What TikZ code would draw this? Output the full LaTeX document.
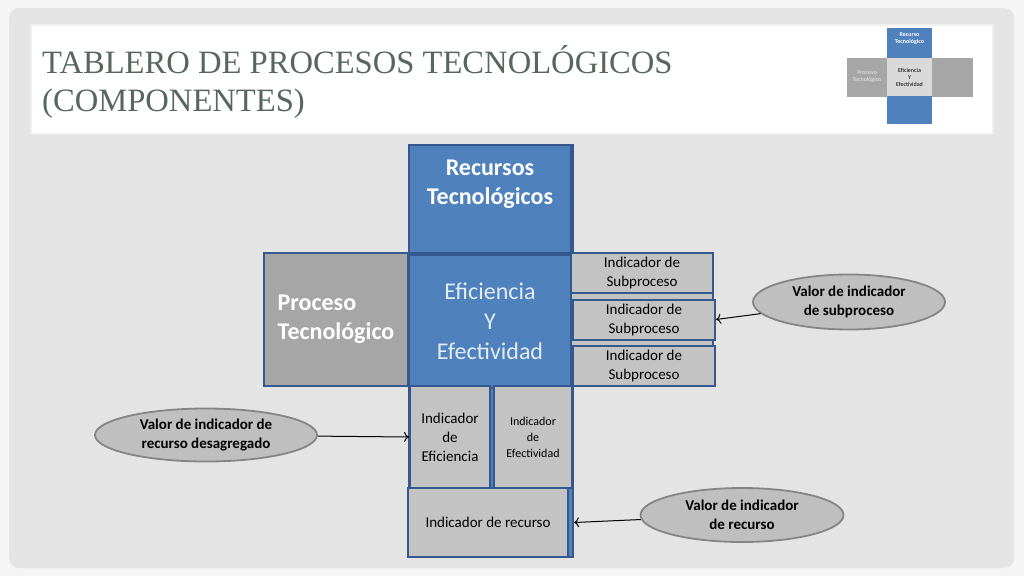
\documentclass[tikz,border=0pt]{standalone}
\usepackage{fontspec}
\setmainfont{Carlito}
\newfontfamily\titlefont{Liberation Serif}
\usepackage{xcolor}
\usetikzlibrary{shapes,arrows,positioning,calc,arrows.meta}
\definecolor{recBlue}{HTML}{4F81BD}
\definecolor{recLine}{HTML}{35598F}
\definecolor{boxGray}{HTML}{C3C3C3}
\definecolor{procGray}{HTML}{A6A6A6}
\definecolor{ovalGray}{HTML}{BFBFBF}
\definecolor{ovalLine}{HTML}{858585}
\definecolor{panelGray}{HTML}{E4E4E4}
\definecolor{titleGreen}{HTML}{56685E}
\definecolor{efiText}{HTML}{E4ECF6}

\begin{document}
\begin{tikzpicture}[x=1pt, y=-1pt,
    box/.style={rectangle, draw=recLine, line width=2pt, inner sep=0pt, align=center},
    bluebox/.style={box, fill=recBlue},
    graybox/.style={box, fill=boxGray, font=\fontsize{15}{19}\selectfont},
    oval/.style={ellipse, draw=ovalLine, line width=1.8pt, fill=ovalGray, inner sep=0pt, align=center, font=\fontsize{15}{19}\selectfont\bfseries},
    arr/.style={-{To[length=5pt,width=10pt]}, line width=1pt},
    title/.style={inner sep=0pt, text=titleGreen, font=\titlefont\fontsize{32.6}{38}\selectfont},
    mini/.style={rectangle, inner sep=0pt, align=center, font=\fontsize{6}{7}\selectfont}]
    \useasboundingbox (0,0) rectangle (1024,576);
    \fill[white!96!black] (0,0) rectangle (1024,576);
    \fill[panelGray, rounded corners=10pt] (9,8) rectangle (1014,568);
    \filldraw[fill=white, draw=gray!12, line width=2pt] (31,25) rectangle (993,134);

    % title
    \node[title, anchor=base west] (ttl1) at (42,73) {TABLERO DE PROCESOS TECNOLÓGICOS};
    \node[title, anchor=base west] (ttl2) at (42,111) {(COMPONENTES)};

    % small copy of the board
    \node[mini, fill=recBlue, minimum width=45pt, minimum height=96pt] (mcol) at (909.5,76) {};
    \node[mini, fill=procGray, draw=gray!70, minimum width=40pt, minimum height=38pt, text=white!85!gray] (mproc) at (867,77) {Proceso\\Tecnológico};
    \node[mini, fill=procGray, draw=gray!70, minimum width=40pt, minimum height=38pt] (mright) at (952,77) {};
    \node[mini, fill=gray!30, minimum width=45pt, minimum height=38pt] (mefi) at (909.5,77) {Eficiencia\\Y\\Efectividad};
    \node[mini, text=white, font=\fontsize{6}{7}\selectfont\bfseries] (mrec) at (909.5,39) {Recurso\\Tecnológico};

    % board
    \node[bluebox, minimum width=164pt, minimum height=412pt] (col) at (491,351) {};
    \node[bluebox, minimum width=162pt, minimum height=108pt] (rec) at (490,199) {};
    \node[align=center, inner sep=0pt, text=white, font=\fontsize{24}{29}\selectfont\bfseries, below=16pt of rec.north] (recTxt) {Recursos\\Tecnológicos};
    \node[bluebox, minimum width=162pt, minimum height=133pt, text=efiText, font=\fontsize{24}{30}\selectfont] (efi) at (490,321) {Eficiencia\\Y\\Efectividad};
    \node[box, fill=procGray, minimum width=144pt, minimum height=133pt, align=left, text=white, font=\fontsize{24}{29}\selectfont\bfseries] (proc) at (336,319.5) {Proceso\\Tecnológico};

    \node[graybox, minimum width=142pt, minimum height=133pt] (subBg) at (642,319.5) {};
    \foreach \i/\x/\y in {1/642/273, 2/644/319.5, 3/644/366}
        \node[graybox, minimum width=142pt, minimum height=40pt] (sub\i) at (\x,\y) {Indicador de\\Subproceso};

    \node[graybox, minimum width=80pt, minimum height=102pt] (indEfi) at (450,437) {Indicador\\de\\Eficiencia};
    \node[graybox, minimum width=78pt, minimum height=102pt, font=\fontsize{12}{16}\selectfont] (indEfe) at (533,437) {Indicador\\de\\Efectividad};
    \node[graybox, minimum width=160pt, minimum height=69pt] (indRec) at (488,522.5) {Indicador de recurso};

    % values
    \node[oval, minimum width=192pt, minimum height=55pt] (valSub) at (849,302) {Valor de indicador\\de subproceso};
    \node[oval, minimum width=222pt, minimum height=53pt] (valDes) at (206,435) {Valor de indicador de\\recurso desagregado};
    \node[oval, minimum width=203pt, minimum height=54pt] (valRec) at (742,515) {Valor de indicador\\de recurso};

    \draw[arr] (valSub) -- (sub2.east);
    \draw[arr] (valDes) -- (indEfi.west);
    \draw[arr] (valRec) -- (col.east |- indRec.east);
\end{tikzpicture}
\end{document}
